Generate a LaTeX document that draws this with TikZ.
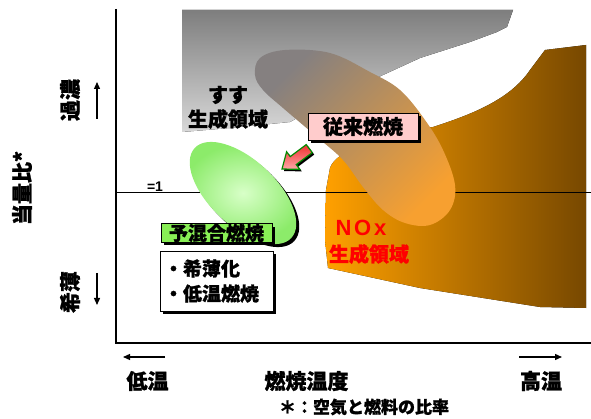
\documentclass[tikz,border=0pt]{standalone}
\usepackage{fontspec}
\setmainfont{Liberation Sans}
\newfontfamily\jp{Noto Sans CJK JP}[BoldFeatures={FakeBold=1.2}]
\usetikzlibrary{arrows.meta,shadows}
\definecolor{sootTop}{HTML}{7E7E7E}
\definecolor{sootBot}{HTML}{D8D8D8}
\definecolor{noxL}{HTML}{FFA000}
\definecolor{noxR}{HTML}{774800}
\definecolor{blobA}{HTML}{858080}
\definecolor{blobB}{HTML}{F7A030}
\definecolor{premixIn}{HTML}{D8FFC8}
\definecolor{premixOut}{HTML}{8CEB6A}
\definecolor{convFill}{HTML}{FFCCCC}
\definecolor{premixBox}{HTML}{88EE55}
\definecolor{arrowRed}{HTML}{F03030}
\definecolor{arrowPink}{HTML}{FFA8A8}
\definecolor{arrowEdge}{HTML}{008A00}
\begin{document}
\begin{tikzpicture}[x=1pt,y=-1pt,
  jtxt/.style={font=\jp\bfseries\fontsize{20}{22}\selectfont, inner sep=0pt},
  bigtxt/.style={font=\jp\bfseries\fontsize{21}{23}\selectfont, inner sep=0pt},
  shadowbox/.style={draw=black, line width=0.9pt, inner sep=0pt,
    drop shadow={shadow xshift=3pt, shadow yshift=-3pt, opacity=1, fill=black}},
  axisline/.style={line width=1.6pt},
  dirarrow/.style={line width=1.3pt, -{Triangle[length=7pt,width=6pt]}},
]
\useasboundingbox (0,0) rectangle (591,419);

% soot region
\fill[top color=sootTop, bottom color=sootBot]
  (182,10) -- (513,10) -- (507,27) -- (497,32) -- (470,42) -- (420,58)
  -- (383,75) -- (330,100) -- (290,122) -- (230,128) -- (182,132) -- cycle;

% NOx region
\fill[left color=noxL, right color=noxR]
  (330,168) .. controls (336,150) and (380,135) .. (433,127)
  .. controls (470,115) and (510,100) .. (530,70)
  -- (545,50) -- (586,45) -- (586,308) -- (540,307) -- (420,288)
  -- (328,268) -- (325,240) -- (326,190) -- cycle;

% stoichiometric line
\coordinate (phiL) at (116,192.5);
\coordinate (phiR) at (591,192.5);
\draw[line width=0.9pt] (phiL) -- (phiR);
\node[font=\bfseries\fontsize{14}{14}\selectfont, inner sep=0pt] (eq1) at (155,187) {=1};

% conventional combustion blob
\shade[top color=blobA, bottom color=blobB, shading angle=45]
  plot[smooth cycle, tension=0.6] coordinates {
  (260,58) (285,50) (330,53) (370,72) (400,90) (425,120) (443,150)
  (455,185) (450,210) (430,225) (405,223) (383,210) (363,187)
  (343,160) (317,137) (283,108) (263,90) (255,75)};

% premixed ellipse
\fill[black, rotate around={-43:(246,196)}] (246,196) ellipse [x radius=66, y radius=33];
\shade[inner color=premixIn, outer color=premixOut, rotate around={-43:(243,193)}]
  (243,193) ellipse [x radius=66, y radius=33];

% axes
\coordinate (ytop) at (116,9);
\coordinate (origin) at (116,343);
\coordinate (xend) at (591,343);
\draw[axisline] (ytop) -- (origin) -- (xend);

% block arrow
\fill[black, shift={(2,2)}] (282,169) -- (299.8,169.4) -- (296.2,164.6) -- (312.2,152.6)
  -- (306.2,144.6) -- (290.2,156.6) -- (286.6,151.8) -- cycle;
\shade[top color=arrowRed, bottom color=arrowPink, draw=arrowEdge, line width=1.2pt, line join=miter]
  (282,169) -- (299.8,169.4) -- (296.2,164.6) -- (312.2,152.6)
  -- (306.2,144.6) -- (290.2,156.6) -- (286.6,151.8) -- cycle;

% labels in plot
\node[jtxt] (soot1) at (228,95) {すす};
\node[jtxt] (soot2) at (228,119) {生成領域};
\node[shadowbox, fill=convFill, minimum width=110pt, minimum height=27pt, jtxt] (conv) at (363,126.5) {従来燃焼};
\node[shadowbox, fill=premixBox, minimum width=111pt, minimum height=17pt,
  font=\jp\bfseries\fontsize{19}{20}\selectfont] (premix) at (216.5,233) {予混合燃焼};
\node[shadowbox, fill=white, minimum width=113pt, minimum height=60pt, align=left,
  text width=105pt, font=\jp\bfseries\fontsize{19}{25}\selectfont] (feat) at (216.5,281) {・希薄化\\・低温燃焼};
\node[font=\bfseries\fontsize{22}{24}\selectfont, text=red, inner sep=0pt] (nox) at (361,228)
  {\addfontfeature{LetterSpace=12}NOx};
\node[jtxt, text=red] (noxreg) at (369,254) {生成領域};

% y-axis labels
\node[bigtxt, rotate=90] (eqr) at (22,188) {当量比*};
\node[bigtxt, rotate=90] (rich) at (70,100) {過濃};
\node[bigtxt, rotate=90] (lean) at (70,292) {希薄};
\coordinate (upA) at (97,119);
\coordinate (upB) at (97,82);
\coordinate (dnA) at (97,273);
\coordinate (dnB) at (97,305);
\draw[dirarrow] (upA) -- (upB);
\draw[dirarrow] (dnA) -- (dnB);

% x-axis labels
\node[bigtxt] (low) at (147.5,381) {低温};
\node[bigtxt] (temp) at (306.5,381) {燃焼温度};
\node[bigtxt] (high) at (541,381) {高温};
\node[font=\jp\bfseries\fontsize{17}{18}\selectfont, inner sep=0pt] (note) at (364,407) {＊：空気と燃料の比率};
\coordinate (ltA) at (165,357);
\coordinate (ltB) at (123,357);
\coordinate (rtA) at (519,357);
\coordinate (rtB) at (562,357);
\draw[dirarrow] (ltA) -- (ltB);
\draw[dirarrow] (rtA) -- (rtB);
\end{tikzpicture}
\end{document}
